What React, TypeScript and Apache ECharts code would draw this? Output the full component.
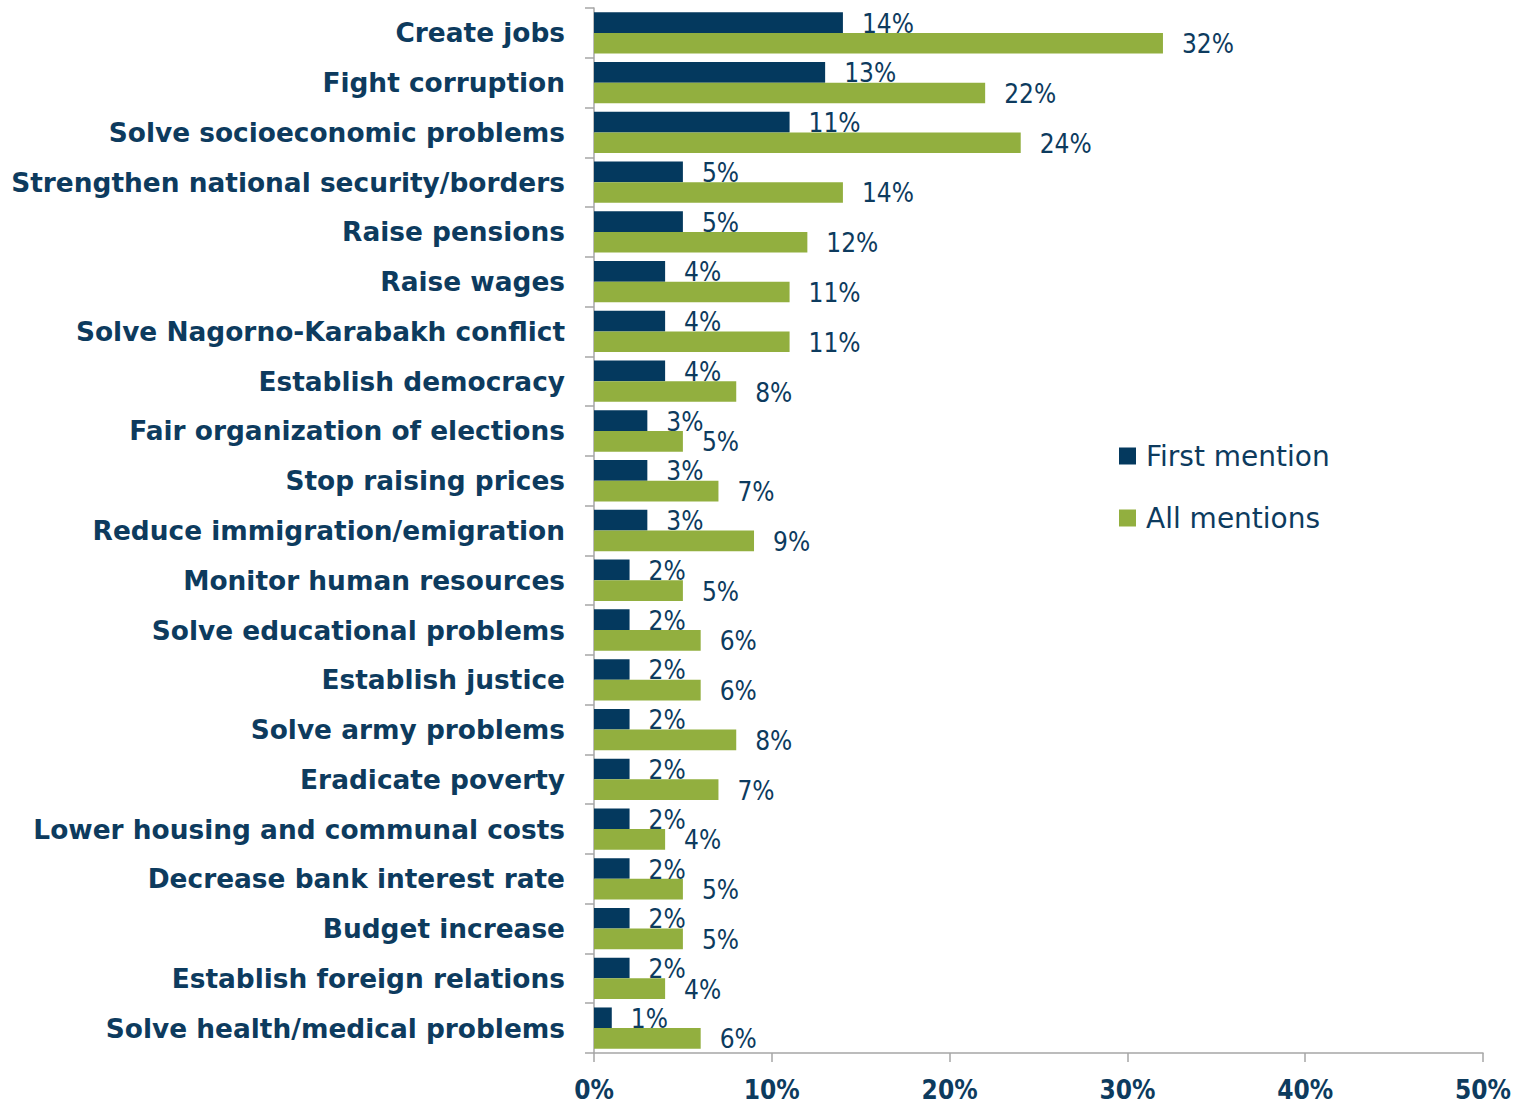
import React, { useEffect, useRef } from "react";
import * as echarts from "echarts";

const categories = [
  "Create jobs",
  "Fight corruption",
  "Solve socioeconomic problems",
  "Strengthen national security/borders",
  "Raise pensions",
  "Raise wages",
  "Solve Nagorno-Karabakh conflict",
  "Establish democracy",
  "Fair organization of elections",
  "Stop raising prices",
  "Reduce immigration/emigration",
  "Monitor human resources",
  "Solve educational problems",
  "Establish justice",
  "Solve army problems",
  "Eradicate poverty",
  "Lower housing and communal costs",
  "Decrease bank interest rate",
  "Budget increase",
  "Establish foreign relations",
  "Solve health/medical problems",
];

const firstMention = [14, 13, 11, 5, 5, 4, 4, 4, 3, 3, 3, 2, 2, 2, 2, 2, 2, 2, 2, 2, 1];
const allMentions = [32, 22, 24, 14, 12, 11, 11, 8, 5, 7, 9, 5, 6, 6, 8, 7, 4, 5, 5, 4, 6];

const seriesNames = ["First mention", "All mentions"];
const xTicks = { min: 0, max: 50, interval: 10 };

const NAVY = "#04395E";
const GREEN = "#92AF3F";
const TEXT = "#0D3B5E";
const AXIS = "#A6A6A6";
const WIDE = "'DejaVu Sans', Verdana, sans-serif";
const NARROW = "'DejaVu Sans Condensed', 'DejaVu Sans', sans-serif";

export default function App() {
  const ref = useRef<HTMLDivElement>(null);

  useEffect(() => {
    if (!ref.current) return;
    const chart = echarts.init(ref.current, null, { renderer: "svg" });
    const labelCfg = {
      show: true,
      position: "right",
      distance: 19,
      offset: [0, 1],
      formatter: "{c}%",
      color: TEXT,
      fontFamily: NARROW,
      fontSize: 26,
    };
    chart.setOption({
      animation: false,
      backgroundColor: "#ffffff",
      grid: { left: 594, right: 50, top: 8, bottom: 52, containLabel: false },
      legend: {
        orient: "vertical",
        left: 1119,
        top: 442,
        padding: 0,
        icon: "rect",
        itemWidth: 17,
        itemHeight: 17,
        itemGap: 34,
        textStyle: { color: TEXT, fontFamily: WIDE, fontSize: 28, padding: [0, 0, 0, 5] },
        data: seriesNames,
      },
      xAxis: {
        type: "value",
        min: xTicks.min,
        max: xTicks.max,
        interval: xTicks.interval,
        axisLine: { show: true, lineStyle: { color: AXIS, width: 1.5 } },
        axisTick: { show: true, length: 9, lineStyle: { color: AXIS, width: 1.5 } },
        splitLine: { show: false },
        axisLabel: {
          formatter: "{value}%",
          color: TEXT,
          fontFamily: NARROW,
          fontWeight: "bold",
          fontSize: 26,
          margin: 24,
        },
      },
      yAxis: {
        type: "category",
        inverse: true,
        data: categories,
        axisLine: { show: true, lineStyle: { color: AXIS, width: 1.5 } },
        axisTick: { show: true, length: 9, alignWithLabel: false, lineStyle: { color: AXIS, width: 1.5 } },
        axisLabel: {
          color: TEXT,
          fontFamily: WIDE,
          fontWeight: "bold",
          fontSize: 26.4,
          margin: 29,
        },
      },
      series: [
        {
          name: seriesNames[0],
          type: "bar",
          data: firstMention,
          barWidth: "41.5%",
          barGap: "0%",
          itemStyle: { color: NAVY },
          label: labelCfg,
        },
        {
          name: seriesNames[1],
          type: "bar",
          data: allMentions,
          barWidth: "41.5%",
          barGap: "0%",
          itemStyle: { color: GREEN },
          label: labelCfg,
        },
      ],
    });
    return () => chart.dispose();
  }, []);

  return (
    <div
      ref={ref}
      style={{ position: "fixed", left: 0, top: 0, width: 1533, height: 1105 }}
    />
  );
}
